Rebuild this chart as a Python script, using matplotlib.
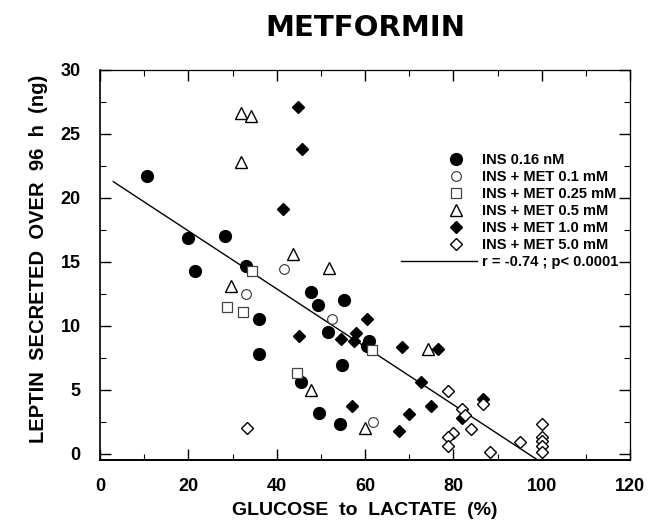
import numpy as np
import matplotlib
matplotlib.use("Agg")
import matplotlib.pyplot as plt
from matplotlib.legend_handler import HandlerLine2D
from matplotlib.lines import Line2D

# ---- data ----
ins_x = [10.6, 19.9, 21.5, 28.3, 33.0, 36.0, 36.0, 47.8, 49.4, 55.3, 51.6, 61.0, 60.5, 54.8, 45.5, 49.6, 54.4]
ins_y = [21.7, 16.9, 14.3, 17.0, 14.7, 10.5, 7.8, 12.6, 11.6, 12.0, 9.5, 8.8, 8.4, 6.9, 5.6, 3.2, 2.3]

met01_x = [41.7, 33.0, 52.5, 61.8]
met01_y = [14.4, 12.5, 10.5, 2.5]

met025_x = [34.5, 28.8, 32.4, 61.6, 44.6]
met025_y = [14.3, 11.5, 11.1, 8.1, 6.3]

met05_x = [32.0, 34.2, 32.0, 43.7, 51.9, 29.7, 47.8, 60.0, 74.3]
met05_y = [26.6, 26.4, 22.8, 15.6, 14.5, 13.1, 5.0, 2.0, 8.2]

met1_x = [44.9, 45.8, 41.4, 60.5, 45.1, 54.6, 58.0, 57.5, 68.4, 76.6, 72.7, 57.1, 70.0, 75.0, 67.7, 82.0, 86.8]
met1_y = [27.1, 23.8, 19.1, 10.5, 9.2, 9.0, 9.4, 8.8, 8.3, 8.2, 5.6, 3.7, 3.1, 3.7, 1.8, 2.8, 4.3]

met5_x = [33.3, 78.8, 82.0, 82.7, 84.0, 86.8, 80.0, 78.8, 78.8, 88.2, 95.0, 100.0, 100.0, 100.0, 100.0, 100.0]
met5_y = [2.0, 4.9, 3.5, 3.0, 1.9, 3.9, 1.6, 1.3, 0.6, 0.15, 0.9, 2.3, 1.3, 1.0, 0.6, 0.15]

fit_x = [3.0, 99.0]
fit_y = [21.27, -0.48]

labels = ["INS 0.16 nM", "INS + MET 0.1 mM", "INS + MET 0.25 mM", "INS + MET 0.5 mM",
          "INS + MET 1.0 mM", "INS + MET 5.0 mM", "r = -0.74 ; p< 0.0001"]

x_ticks = [0, 20, 40, 60, 80, 100, 120]
y_ticks = [0, 5, 10, 15, 20, 25, 30]

plt.rcParams['font.family'] = ['Liberation Sans', 'DejaVu Sans']
plt.rcParams['font.weight'] = 'bold'

fig = plt.figure(figsize=(6.48, 5.29), dpi=100)
ax = fig.add_axes([100/648, 1-460/529, 530/648, 390/529])

h_line, = ax.plot(fit_x, fit_y, color='black', lw=1.0, zorder=1)
h_ins, = ax.plot(ins_x, ins_y, 'o', ms=8.5, mfc='black', mec='black', ls='none', zorder=3)
h01, = ax.plot(met01_x, met01_y, 'o', ms=7, mfc='white', mec='#333333', mew=0.8, ls='none', zorder=3)
h025, = ax.plot(met025_x, met025_y, 's', ms=7, mfc='white', mec='#444444', mew=0.9, ls='none', zorder=3)
h05, = ax.plot(met05_x, met05_y, '^', ms=8, mfc='white', mec='black', mew=1.0, ls='none', zorder=3)
h1, = ax.plot(met1_x, met1_y, 'D', ms=6.5, mfc='black', mec='black', ls='none', zorder=3)
h5, = ax.plot(met5_x, met5_y, 'D', ms=6.5, mfc='white', mec='black', mew=1.0, ls='none', zorder=4)

ax.set_xlim(0, 120)
ax.set_ylim(-0.5, 30)
ax.set_xticks(x_ticks)
ax.set_yticks(y_ticks)
ax.set_xticks(np.arange(10, 120, 20), minor=True)
ax.set_yticks(np.arange(2.5, 30, 5), minor=True)
ax.tick_params(which='both', direction='in', top=True, right=True)
ax.tick_params(which='major', length=8, width=1)
ax.tick_params(which='minor', length=4, width=0.8)
ax.tick_params(axis='x', which='major', labelsize=13, pad=13)
ax.tick_params(axis='y', which='major', labelsize=13, pad=14)
for lab in ax.get_xticklabels() + ax.get_yticklabels():
    lab.set_fontweight('bold')
for s in ax.spines.values():
    s.set_linewidth(0.9)
ax.spines['bottom'].set_linewidth(1.4)
ax.spines['left'].set_linewidth(1.2)

ax.set_xlabel("GLUCOSE  to  LACTATE  (%)", fontsize=14, fontweight='bold', labelpad=5)
ax.set_ylabel("LEPTIN  SECRETED  OVER  96  h  (ng)", fontsize=14.5, fontweight='bold')
ax.yaxis.set_label_coords(-0.098, 0.515)
fig.text(365/648, 1-28/529, "METFORMIN", fontsize=21, fontweight='bold', ha='center', va='center',
         family=['DejaVu Sans'])


class LongLine(HandlerLine2D):
    def create_artists(self, legend, orig_handle, xdescent, ydescent, width, height, fontsize, trans):
        ydata = np.full(2, ((height - ydescent) / 2.))
        l = Line2D([-xdescent - 2.05 * width, 1.45 * width - xdescent], ydata)
        self.update_prop(l, orig_handle, legend)
        l.set_transform(trans)
        return [l]


leg = ax.legend([h_ins, h01, h025, h05, h1, h5, h_line], labels,
                loc='upper left', bbox_to_anchor=(0.638, 0.805), frameon=False,
                prop={'size': 10.5, 'weight': 'bold'}, handlelength=1.5, handletextpad=1.0,
                labelspacing=0.2, borderpad=0,
                handler_map={h_line: LongLine()})

fig.savefig("out.png", dpi=100)
